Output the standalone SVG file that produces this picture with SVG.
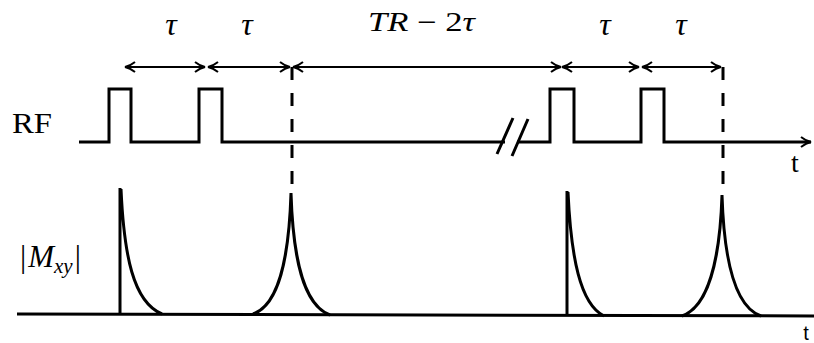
<svg xmlns="http://www.w3.org/2000/svg" width="814" height="343" viewBox="0 0 814 343">
<style>
.ln{fill:none;stroke:#000;stroke-width:3;stroke-linejoin:miter;stroke-linecap:butt}
.cv{fill:none;stroke:#000;stroke-width:3}
.ar{fill:none;stroke:#000;stroke-width:2}
.dash{fill:none;stroke:#000;stroke-width:3;stroke-dasharray:13 13}
.ser{font-family:"Liberation Serif","Times New Roman",serif;fill:#000}
.it{font-style:italic}
.sans{font-family:"Liberation Sans",Arial,sans-serif;fill:#000}
</style>
<defs>
<marker id="ah" markerUnits="userSpaceOnUse" markerWidth="14" markerHeight="14" viewBox="-12 -7 14 14" refX="0" refY="0" orient="auto-start-reverse">
<path d="M-10,-5 Q-5,-1 0,0 Q-5,1 -10,5" fill="none" stroke="#000" stroke-width="2"/>
</marker>
</defs>

<g id="labels">
<text class="ser" x="12" y="133" font-size="30" textLength="40" lengthAdjust="spacingAndGlyphs">RF</text>
<text class="ser it" x="171" y="35" font-size="32" text-anchor="middle">τ</text>
<text class="ser it" x="247" y="35" font-size="32" text-anchor="middle">τ</text>
<text class="ser it" x="605" y="35" font-size="32" text-anchor="middle">τ</text>
<text class="ser it" x="681" y="35" font-size="32" text-anchor="middle">τ</text>
<text class="ser" x="368" y="31" font-size="27" textLength="107" lengthAdjust="spacingAndGlyphs"><tspan class="it">TR</tspan> − 2<tspan class="it">τ</tspan></text>
<text class="ser" x="795" y="172" font-size="28" text-anchor="middle">t</text>
<text class="sans" x="806" y="340" font-size="20" text-anchor="middle">t</text>
<text class="ser" x="20" y="267" font-size="31">|<tspan class="it" dx="2">M</tspan><tspan class="it" font-size="21" dy="6">xy</tspan><tspan dy="-6" dx="2">|</tspan></text>
</g>

<g id="rf-line">
<path class="ln" d="M79,142 H109 V89 H131 V142 H199 V89 H222 V142 H505 M517,142 H550 V89 H574 V142 H641 V89 H664 V142 H811" marker-end="url(#ah)"/>
<path class="ln" d="M497,154 L513,118 M512,156 L528,119"/>
</g>

<g id="mxy-line">
<path class="ln" d="M17,314 L814,316"/>
<path class="cv" d="M120,188 V314 M121,189 C124,255 133,302 162,314"/>
<path class="cv" d="M253,314 C279,305 289,258 291,193 C293,258 303,305 330,315"/>
<path class="cv" d="M567,191 V316 M568,192 C571,257 580,304 604,316"/>
<path class="cv" d="M682,316 C708,307 720,260 722,195 C724,260 735,307 761,316"/>
</g>

<g id="connectors">
<path class="dash" d="M292,67 V193"/>
<path class="dash" d="M723,67 V192"/>
<path class="ar" d="M125,67 H205" marker-start="url(#ah)" marker-end="url(#ah)"/>
<path class="ar" d="M208,67 H290" marker-start="url(#ah)" marker-end="url(#ah)"/>
<path class="ar" d="M293,67 H561" marker-start="url(#ah)" marker-end="url(#ah)"/>
<path class="ar" d="M562,67 H639" marker-start="url(#ah)" marker-end="url(#ah)"/>
<path class="ar" d="M642,67 H721" marker-start="url(#ah)" marker-end="url(#ah)"/>
</g>
</svg>
